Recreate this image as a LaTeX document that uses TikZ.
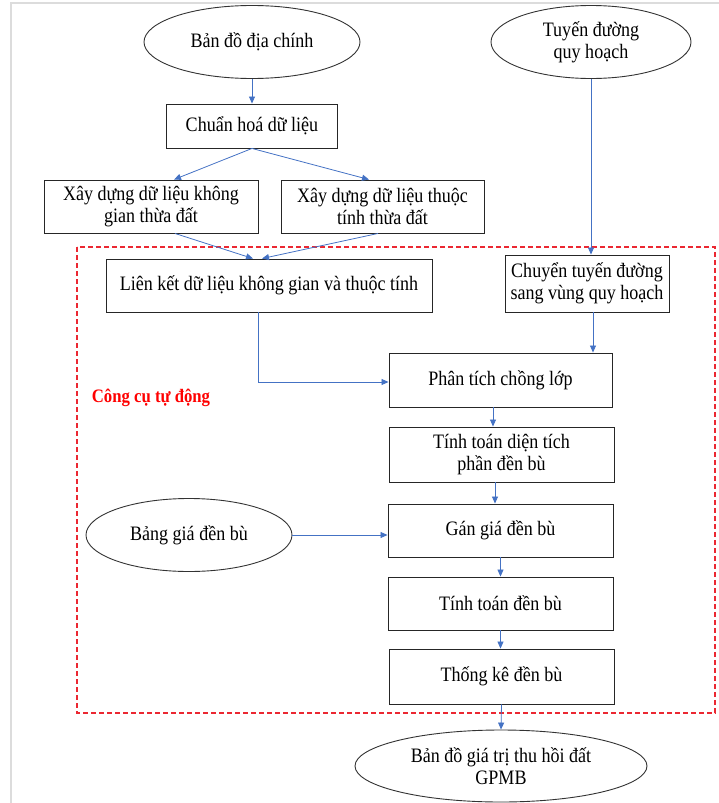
\documentclass[tikz,border=0pt]{standalone}
\usepackage{fontspec}
\setmainfont[FakeStretch=0.88]{Liberation Serif}
\usetikzlibrary{shapes.geometric,arrows.meta,calc}
\definecolor{arrowblue}{HTML}{4472C4}
\definecolor{framegray}{HTML}{DCDCDC}
\definecolor{regionred}{RGB}{235,40,50}
\begin{document}
\begin{tikzpicture}[x=1pt,y=-1pt,
  every node/.style={font=\fontsize{20.5}{22}\selectfont},
  procbox/.style={draw=black!85,line width=0.9pt,rectangle,inner sep=0pt,align=center},
  terminal/.style={draw=black!80,line width=0.9pt,ellipse,inner sep=0pt,align=center},
  flow/.style={draw=arrowblue,line width=0.8pt,-{Triangle[length=7pt,width=6pt]}},
  region/.style={draw=regionred,line width=1.1pt,dash pattern=on 5pt off 3pt}]
\useasboundingbox (0,0) rectangle (719,803);
% light frame
\draw[framegray,line width=2.5pt] (11,803) -- (11,3) -- (719,3);
% dashed region
\draw[region] (77,247) rectangle (715,713);
\node[text=red,font=\fontsize{19}{21}\selectfont\bfseries] (lbl) at (151,398) {Công cụ tự động};
% nodes
\node[terminal,minimum width=216pt,minimum height=73pt] (e1) at (252,42) {Bản đồ địa chính};
\node[terminal,minimum width=200pt,minimum height=73pt] (e2) at (591,42) {Tuyến đường\\quy hoạch};
\node[procbox,minimum width=171pt,minimum height=44pt] (b1) at (252,126) {Chuẩn hoá dữ liệu};
\node[procbox,minimum width=214pt,minimum height=53pt] (b2) at (151,206.5) {Xây dựng dữ liệu không\\gian thừa đất};
\node[procbox,minimum width=203pt,minimum height=53pt] (b3) at (382.5,206.5) {Xây dựng dữ liệu thuộc\\tính thừa đất};
\node[procbox,minimum width=326pt,minimum height=53pt] (b4) at (269,285.5) {Liên kết dữ liệu không gian và thuộc tính};
\node[procbox,minimum width=164pt,minimum height=57pt] (b5) at (587,283.5) {Chuyển tuyến đường\\sang vùng quy hoạch};
\node[procbox,minimum width=223pt,minimum height=54pt] (b6) at (500.5,380) {Phân tích chồng lớp};
\node[procbox,minimum width=225pt,minimum height=55pt] (b7) at (501.5,454.5) {Tính toán diện tích\\phần đền bù};
\node[procbox,minimum width=225pt,minimum height=53pt] (b8) at (500.5,530.5) {Gán giá đền bù};
\node[procbox,minimum width=225pt,minimum height=53pt] (b9) at (500.5,603.5) {Tính toán đền bù};
\node[procbox,minimum width=225pt,minimum height=55pt] (b10) at (501.5,676.5) {Thống kê đền bù};
\node[terminal,minimum width=206pt,minimum height=73pt] (e3) at (189,535) {Bảng giá đền bù};
\node[terminal,minimum width=292pt,minimum height=72pt] (e4) at (501,766) {Bản đồ giá trị thu hồi đất\\GPMB};
% connectors
\draw[flow] (e1) -- (b1);
\draw[flow] (b1.south) -- ($(b2.north)+(23,0)$);
\draw[flow] (b1.south) -- ($(b3.north)+(-13.5,0)$);
\draw[flow] ($(b2.south)+(24,0)$) -- ($(b4.north)+(-16,0)$);
\draw[flow] ($(b3.south)+(-4.5,0)$) -- ($(b4.north)+(-7,0)$);
\draw[flow] (e2.south) -- (e2.south |- b5.north);
\coordinate (b5out) at ($(b5.south)+(6,0)$);
\draw[flow] (b5out) -- (b5out |- b6.north);
\coordinate (b4out) at ($(b4.south)+(-11,0)$);
\draw[flow] (b4out) |- ($(b6.west)+(0,2)$);
\coordinate (b6out) at ($(b6.south)+(-7.5,0)$);
\draw[flow] (b6out) -- (b6out |- b7.north);
\coordinate (b7out) at ($(b7.south)+(-6.5,0)$);
\draw[flow] (b7out) -- (b7out |- b8.north);
\draw[flow] (b8.south) -- (b8.south |- b9.north);
\draw[flow] (b9.south) -- (b9.south |- b10.north);
\draw[flow] (b10.south) -- (e4.north);
\draw[flow] (e3.east) -- (e3.east -| b8.west);
\end{tikzpicture}
\end{document}
